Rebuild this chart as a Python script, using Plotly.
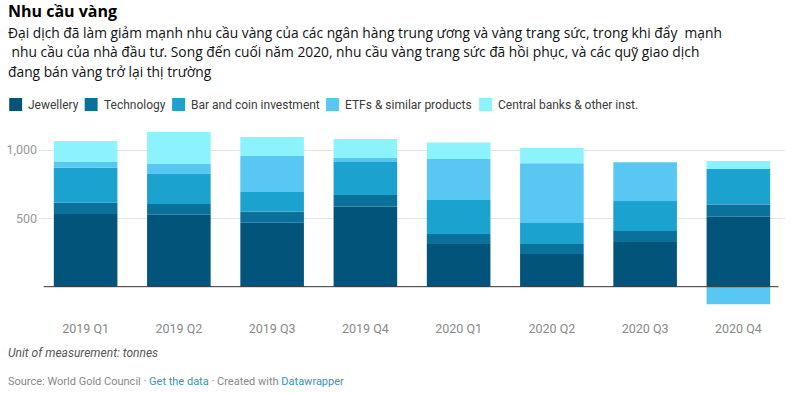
import plotly.graph_objects as go

quarters = ["2019 Q1", "2019 Q2", "2019 Q3", "2019 Q4", "2020 Q1", "2020 Q2", "2020 Q3", "2020 Q4"]
jewellery = [532, 527, 468, 586, 312, 239, 327, 512]
technology = [83, 78, 81, 85, 74, 73, 80, 90]
bar_coin = [256, 220, 144, 242, 248, 154, 220, 259]
etfs = [42, 73, 263, 29, 301, 437, 283, -129]
central_banks = [153, 234, 140, 139, 119, 112, 0, 58]

series_names = ["Jewellery", "Technology", "Bar and coin investment", "ETFs & similar products", "Central banks & other inst."]
series_values = [jewellery, technology, bar_coin, etfs, central_banks]
colors = ["#03547b", "#0a719a", "#1ca2cf", "#58c7f2", "#8cf2fb"]

ytick_vals = [500, 1000]
ytick_text = ["500", "1,000"]

W, H = 791, 393
L, R, T, B = 34, 6, 128, 88
PW, PH = W - L - R, H - T - B


def px(x):
    return (x - L) / PW


def py(y):
    return 1 - (y - T) / PH


fig = go.Figure()
for name, vals, col in zip(series_names, series_values, colors):
    fig.add_trace(go.Bar(x=quarters, y=vals, name=name, marker=dict(color=col, line=dict(width=0)),
                         showlegend=False))

FONT = "Roboto, Liberation Sans, sans-serif"
TFONT = "Open Sans, Noto Sans, sans-serif"

annotations = []
shapes = []

annotations.append(dict(text="<b>Nhu cầu vàng</b>", x=px(1), y=py(11), xref="paper", yref="paper",
                        xanchor="left", yanchor="middle", showarrow=False,
                        font=dict(family=TFONT, size=16, color="#000")))
sub_lines = [
    "Đại dịch đã làm giảm mạnh nhu cầu vàng của các ngân hàng trung ương và vàng trang sức, trong khi đẩy\u00a0 mạnh",
    "\u00a0nhu cầu của nhà đầu tư. Song đến cuối năm 2020, nhu cầu vàng trang sức đã hồi phục, và các quỹ giao dịch",
    "đang bán vàng trở lại thị trường",
]
for i, line in enumerate(sub_lines):
    annotations.append(dict(text=line, x=px(1), y=py(32 + 19.5 * i), xref="paper", yref="paper",
                            xanchor="left", yanchor="middle", showarrow=False,
                            font=dict(family=TFONT, size=13.8, color="#111")))

leg_sq = [4, 80, 168, 323, 477]
for name, col, x0 in zip(series_names, colors, leg_sq):
    shapes.append(dict(type="rect", xref="paper", yref="paper", x0=px(x0), x1=px(x0 + 13),
                       y0=py(111), y1=py(98), fillcolor=col, line=dict(width=0), layer="above"))
    annotations.append(dict(text=name, x=px(x0 + 17), y=py(105), xref="paper", yref="paper",
                            xanchor="left", yanchor="middle", showarrow=False,
                            font=dict(family=FONT, size=12, color="#3a3a3a")))

annotations.append(dict(text="<i>Unit of measurement: tonnes</i>", x=px(1), y=py(353), xref="paper", yref="paper",
                        xanchor="left", yanchor="middle", showarrow=False,
                        font=dict(family=FONT, size=12, color="#555")))
annotations.append(dict(
    text="Source: World Gold Council · <span style='color:#2f97bd'>Get the data</span> · Created with "
         "<span style='color:#2f97bd'>Datawrapper</span>",
    x=px(1), y=py(381), xref="paper", yref="paper", xanchor="left", yanchor="middle", showarrow=False,
    font=dict(family=FONT, size=11, color="#888")))

shapes.append(dict(type="line", xref="x", yref="y", x0=-0.45, x1=7.43, y0=0, y1=0,
                   line=dict(color="#333", width=1), layer="above"))

fig.update_layout(
    width=W, height=H,
    margin=dict(l=L, r=R, t=T, b=B, pad=0),
    barmode="relative",
    bargap=0.318,
    plot_bgcolor="white", paper_bgcolor="white",
    font=dict(family=FONT),
    annotations=annotations,
    shapes=shapes,
    xaxis=dict(showgrid=False, zeroline=False, showline=False, ticks="",
               tickfont=dict(family=FONT, size=12.5, color="#888"), ticklabelstandoff=14,
               fixedrange=True),
    yaxis=dict(range=[-134, 1161], tickvals=ytick_vals, ticktext=ytick_text, showgrid=True,
               gridcolor="#e4e4e4", gridwidth=1, zeroline=False, showline=False, ticks="",
               tickfont=dict(family=FONT, size=12.5, color="#999"), ticklabelstandoff=1,
               fixedrange=True),
)

fig.write_html("out.html", config={"displayModeBar": False},
               post_script="document.body.style.margin='0';document.body.style.overflow='hidden';")
